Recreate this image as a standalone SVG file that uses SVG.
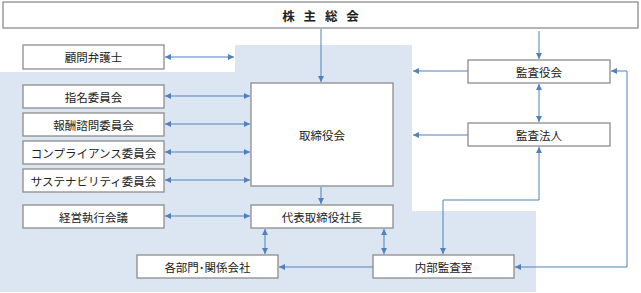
<svg xmlns="http://www.w3.org/2000/svg" width="641" height="293" viewBox="0 0 641 293">
<style>
.b{fill:#fff;stroke:#8c8c8c;stroke-width:1.3}
.t{font-family:"Noto Sans CJK JP","Noto Sans",sans-serif;font-size:11.5px;fill:#222;text-anchor:middle;dominant-baseline:central}
.c{fill:none;stroke:#4f81bd;stroke-width:1}
</style>
<defs>
<marker id="a" viewBox="0 0 10 10" refX="10" refY="5" markerWidth="6" markerHeight="6" orient="auto-start-reverse" markerUnits="userSpaceOnUse">
<path d="M0,0L10,5L0,10z" fill="#4f81bd"/>
</marker>
</defs>
<rect width="641" height="293" fill="#fff"/>
<polygon points="0,72 235,72 235,45 412,45 412,211 536,211 536,292 0,292" fill="#dce6f2"/>
<g id="connectors">
<line class="c" x1="165" y1="57" x2="234" y2="57" marker-start="url(#a)" marker-end="url(#a)"/>
<line class="c" x1="165" y1="96" x2="250" y2="96" marker-start="url(#a)" marker-end="url(#a)"/>
<line class="c" x1="165" y1="124" x2="250" y2="124" marker-start="url(#a)" marker-end="url(#a)"/>
<line class="c" x1="165" y1="152" x2="250" y2="152" marker-start="url(#a)" marker-end="url(#a)"/>
<line class="c" x1="165" y1="180" x2="250" y2="180" marker-start="url(#a)" marker-end="url(#a)"/>
<line class="c" x1="165" y1="216" x2="250" y2="216" marker-start="url(#a)" marker-end="url(#a)"/>
<line class="c" x1="321" y1="29" x2="321" y2="82" marker-end="url(#a)"/>
<line class="c" x1="321" y1="187" x2="321" y2="204" marker-end="url(#a)"/>
<line class="c" x1="539" y1="31" x2="539" y2="59" marker-end="url(#a)"/>
<line class="c" x1="539" y1="84" x2="539" y2="122" marker-start="url(#a)" marker-end="url(#a)"/>
<line class="c" x1="468" y1="71" x2="413" y2="71" marker-end="url(#a)"/>
<line class="c" x1="468" y1="135" x2="413" y2="135" marker-end="url(#a)"/>
<polyline class="c" points="539,147 539,200 443,200 443,254" marker-start="url(#a)" marker-end="url(#a)"/>
<polyline class="c" points="627,71 627,267 515,267" marker-end="url(#a)"/>
<line class="c" x1="627" y1="71" x2="611" y2="71" marker-end="url(#a)"/>
<line class="c" x1="373" y1="267" x2="279" y2="267" marker-end="url(#a)"/>
<line class="c" x1="265" y1="229" x2="265" y2="254" marker-start="url(#a)" marker-end="url(#a)"/>
<line class="c" x1="384" y1="229" x2="384" y2="254" marker-start="url(#a)" marker-end="url(#a)"/>
</g>
<g id="shareholders"><rect class="b" x="3" y="2" width="635" height="26"/><text class="t" x="322" y="15" style="font-weight:bold;font-size:12.5px;letter-spacing:3px">株 主 総 会</text></g>
<g id="advisor"><rect class="b" x="23" y="45" width="141" height="24"/><text class="t" x="93.5" y="57">顧問弁護士</text></g>
<g id="nomination"><rect class="b" x="23" y="85" width="141" height="23"/><text class="t" x="93.5" y="96.5">指名委員会</text></g>
<g id="compensation"><rect class="b" x="23" y="113" width="141" height="23"/><text class="t" x="93.5" y="124.5">報酬諮問委員会</text></g>
<g id="compliance"><rect class="b" x="23" y="141" width="141" height="23"/><text class="t" x="93.5" y="152.5">コンプライアンス委員会</text></g>
<g id="sustainability"><rect class="b" x="23" y="169" width="141" height="23"/><text class="t" x="93.5" y="180.5">サステナビリティ委員会</text></g>
<g id="executive"><rect class="b" x="23" y="205" width="141" height="23"/><text class="t" x="93.5" y="216.5">経営執行会議</text></g>
<g id="board"><rect class="b" x="251" y="83" width="142" height="103"/><text class="t" x="322" y="135">取締役会</text></g>
<g id="president"><rect class="b" x="251" y="205" width="142" height="23"/><text class="t" x="322" y="216.5">代表取締役社長</text></g>
<g id="auditboard"><rect class="b" x="468" y="60" width="142" height="23"/><text class="t" x="539" y="71.5">監査役会</text></g>
<g id="auditfirm"><rect class="b" x="468" y="123" width="142" height="23"/><text class="t" x="539" y="134.5">監査法人</text></g>
<g id="departments"><rect class="b" x="137" y="255" width="141" height="23"/><text class="t" x="207.5" y="266.5">各部門･関係会社</text></g>
<g id="internalaudit"><rect class="b" x="373" y="255" width="141" height="23"/><text class="t" x="443.5" y="266.5">内部監査室</text></g>
</svg>
